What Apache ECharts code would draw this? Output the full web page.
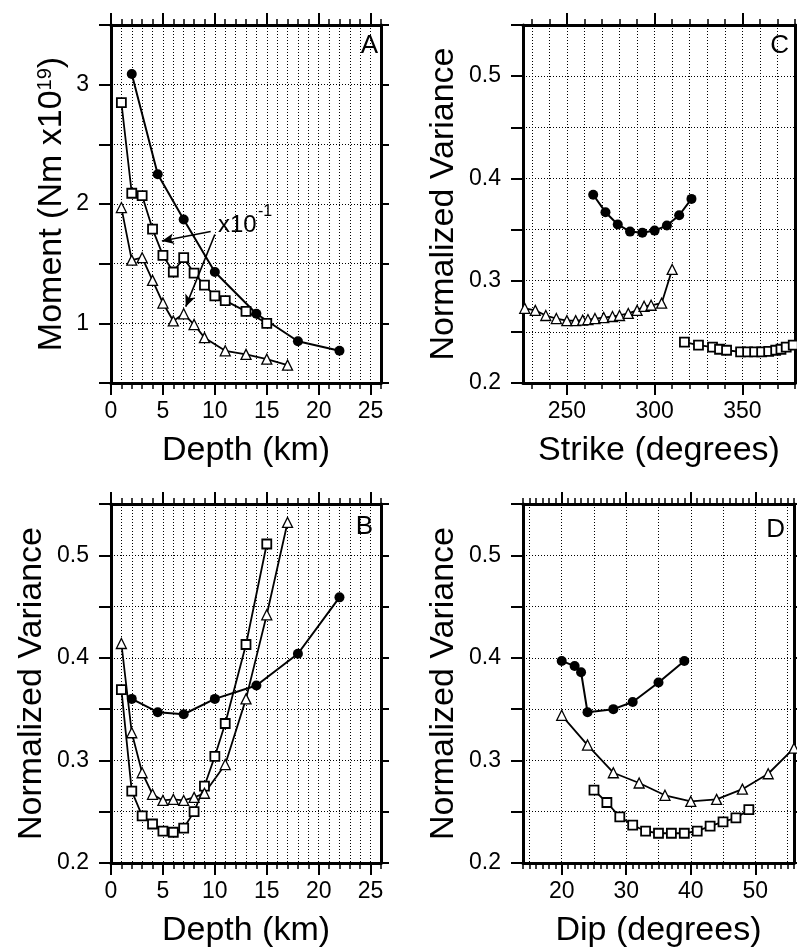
<!DOCTYPE html>
<html><head><meta charset="utf-8">
<script src="https://cdn.jsdelivr.net/npm/echarts@6/dist/echarts.min.js"></script>
<style>html,body{margin:0;padding:0;background:#fff}#c{width:797px;height:948px}</style>
</head><body><div id="c"></div>
<script>
// ---------- Panel A: Moment vs Depth ----------
const A_circDepth  = [2, 4.5, 7, 10, 14, 18, 22];
const A_circMoment = [3.09, 2.25, 1.87, 1.43, 1.08, 0.85, 0.77];
const A_sqDepth    = [1, 2, 3, 4, 5, 6, 7, 8, 9, 10, 11, 13, 15];
const A_sqMoment   = [2.85, 2.09, 2.07, 1.79, 1.57, 1.43, 1.55, 1.42, 1.32, 1.23, 1.19, 1.10, 1.00];
const A_triDepth   = [1, 2, 3, 4, 5, 6, 7, 8, 9, 11, 13, 15, 17];
const A_triMoment  = [1.97, 1.53, 1.55, 1.36, 1.17, 1.02, 1.08, 0.99, 0.88, 0.77, 0.74, 0.70, 0.65];
const A_arrows     = [[[9.6, 1.77], [4.9, 1.69]], [[10.0, 1.745], [7.2, 1.14]]];

// ---------- Panel B: Normalized variance vs Depth ----------
const B_circDepth = [2, 4.5, 7, 10, 14, 18, 22];
const B_circVar   = [0.360, 0.347, 0.345, 0.360, 0.373, 0.404, 0.459];
const B_sqDepth   = [1, 2, 3, 4, 5, 6, 7, 8, 9, 10, 11, 13, 15];
const B_sqVar     = [0.369, 0.270, 0.246, 0.238, 0.231, 0.230, 0.234, 0.250, 0.275, 0.304, 0.336, 0.413, 0.511];
const B_triDepth  = [1, 2, 3, 4, 5, 6, 7, 8, 9, 11, 13, 15, 17];
const B_triVar    = [0.414, 0.327, 0.288, 0.267, 0.261, 0.262, 0.261, 0.264, 0.268, 0.296, 0.360, 0.442, 0.532];

// ---------- Panel C: Normalized variance vs Strike ----------
const C_circStrike = [265, 272, 279, 286, 293, 300, 307, 314, 321];
const C_circVar    = [0.384, 0.367, 0.355, 0.348, 0.347, 0.349, 0.354, 0.364, 0.380];
const C_triStrike  = [226, 232, 238, 244, 250, 255, 259, 262, 266, 271, 276, 280, 285, 290, 294, 298, 304, 310];
const C_triVar     = [0.273, 0.271, 0.266, 0.263, 0.261, 0.261, 0.2615, 0.262, 0.263, 0.264, 0.265, 0.266, 0.268, 0.271, 0.275, 0.276, 0.278, 0.311];
const C_sqStrike   = [317, 325, 333, 337, 341, 349, 353, 357, 361, 365, 369, 372, 375, 379];
const C_sqVar      = [0.240, 0.237, 0.235, 0.233, 0.232, 0.2305, 0.2305, 0.2305, 0.2305, 0.231, 0.232, 0.233, 0.235, 0.237];

// ---------- Panel D: Normalized variance vs Dip ----------
const D_circDip = [20, 22, 23, 24, 28, 31, 35, 39];
const D_circVar = [0.397, 0.392, 0.386, 0.347, 0.350, 0.357, 0.376, 0.397];
const D_triDip  = [20, 24, 28, 32, 36, 40, 44, 48, 52, 56];
const D_triVar  = [0.344, 0.315, 0.288, 0.278, 0.266, 0.260, 0.262, 0.272, 0.287, 0.312];
const D_sqDip   = [25, 27, 29, 31, 33, 35, 37, 39, 41, 43, 45, 47, 49];
const D_sqVar   = [0.271, 0.259, 0.245, 0.237, 0.231, 0.229, 0.229, 0.229, 0.231, 0.236, 0.240, 0.244, 0.252];

// ---------- Tick / label values ----------
const depthLabels  = [0, 5, 10, 15, 20, 25];
const depthMinor   = [0,1,2,3,4,5,6,7,8,9,10,11,12,13,14,15,16,17,18,19,20,21,22,23,24,25,26];
const depthGrid    = [1,2,3,4,5,6,7,8,9,10,11,12,13,14,15,16,17,18,19,20,21,22,23,24,25];
const strikeLabels = [250, 300, 350];
const strikeMinor  = [230,240,250,260,270,280,290,300,310,320,330,340,350,360,370,380];
const strikeGrid   = [230,240,250,260,270,280,290,300,310,320,330,340,350,360,370];
const dipLabels    = [20, 30, 40, 50];
const dipMinor     = [14,15,16,17,18,19,20,21,22,23,24,25,26,27,28,29,30,31,32,33,34,35,36,37,38,39,40,41,42,43,44,45,46,47,48,49,50,51,52,53,54,55,56];
const dipGrid      = [15, 20, 25, 30, 35, 40, 45, 50, 55];
const momentLabels = [1, 2, 3];
const varLabels    = [0.2, 0.3, 0.4, 0.5];

const FONT = '"Liberation Sans", Arial, Helvetica, sans-serif';
const DOT = [1, 2];
const TITLE_SIZE = 34;
const TICK_SIZE = 23;

const grids = [
  {left: 111, top: 25,  width: 270, height: 358},  // A
  {left: 523, top: 25,  width: 272, height: 358},  // C
  {left: 111, top: 504, width: 270, height: 359},  // B
  {left: 523, top: 504, width: 271, height: 359}   // D
].map(g => Object.assign({show: false, containLabel: false, outerBoundsMode: 'none'}, g));

function xAxes(g, min, max, name, labels, majors, minors, gridVals) {
  const base = {type: 'value', gridIndex: g, min: min, max: max, silent: true};
  return [
    Object.assign({}, base, {position: 'bottom', name: name, nameLocation: 'middle', nameGap: 51,
      nameTextStyle: {fontSize: TITLE_SIZE, color: '#000', fontFamily: FONT},
      axisLine: {show: true, onZero: false, lineStyle: {color: '#000', width: 3}},
      axisTick: {show: true, inside: false, length: 12, customValues: majors, lineStyle: {color: '#000', width: 2}},
      axisLabel: {show: true, customValues: labels, margin: 17, fontSize: TICK_SIZE, color: '#000', fontFamily: FONT},
      splitLine: {show: false}}),
    Object.assign({}, base, {position: 'bottom',
      axisLine: {show: false, onZero: false},
      axisTick: {show: true, inside: false, length: 6, customValues: minors, lineStyle: {color: '#000', width: 1.5}},
      axisLabel: {show: false}, splitLine: {show: false}}),
    Object.assign({}, base, {position: 'bottom',
      axisLine: {show: false, onZero: false},
      axisTick: {show: false, customValues: gridVals},
      axisLabel: {show: false},
      splitLine: {show: true, lineStyle: {color: '#000', width: 1, type: DOT}}}),
    Object.assign({}, base, {position: 'top',
      axisLine: {show: true, onZero: false, lineStyle: {color: '#000', width: 3}},
      axisTick: {show: true, inside: false, length: 12, customValues: majors, lineStyle: {color: '#000', width: 2}},
      axisLabel: {show: false}, splitLine: {show: false}}),
    Object.assign({}, base, {position: 'top',
      axisLine: {show: false, onZero: false},
      axisTick: {show: true, inside: false, length: 6, customValues: minors, lineStyle: {color: '#000', width: 1.5}},
      axisLabel: {show: false}, splitLine: {show: false}})
  ];
}

function yAxes(g, min, max, interval, name, nameGap, labels, fmt, rich) {
  return [
    {type: 'value', gridIndex: g, min: min, max: max, interval: interval, position: 'left', silent: true,
      name: name, nameLocation: 'middle', nameGap: nameGap, nameRotate: 90,
      nameTextStyle: {fontSize: TITLE_SIZE, color: '#000', fontFamily: FONT, rich: rich},
      axisLine: {show: true, onZero: false, lineStyle: {color: '#000', width: 3}},
      axisTick: {show: true, inside: false, length: 12, lineStyle: {color: '#000', width: 2}},
      axisLabel: {show: true, customValues: labels, formatter: fmt, margin: 22, fontSize: TICK_SIZE, color: '#000', fontFamily: FONT},
      splitLine: {show: true, lineStyle: {color: '#000', width: 1, type: DOT}}},
    {type: 'value', gridIndex: g, min: min, max: max, interval: interval, position: 'right', silent: true,
      axisLine: {show: true, onZero: false, lineStyle: {color: '#000', width: 3}},
      axisTick: {show: true, inside: false, length: 8, lineStyle: {color: '#000', width: 2}},
      axisLabel: {show: false}, splitLine: {show: false}}
  ];
}

const xAxis = [].concat(
  xAxes(0, 0, 26, 'Depth (km)', depthLabels, depthLabels, depthMinor, depthGrid),
  xAxes(1, 225, 380, 'Strike (degrees)', strikeLabels, strikeLabels, strikeMinor, strikeGrid),
  xAxes(2, 0, 26, 'Depth (km)', depthLabels, depthLabels, depthMinor, depthGrid),
  xAxes(3, 14, 56, 'Dip (degrees)', dipLabels, dipLabels, dipMinor, dipGrid)
);
const varFmt = v => v.toFixed(1);
const yAxis = [].concat(
  yAxes(0, 0.5, 3.5, 0.5, 'Moment (Nm x10{s|19})', 42, momentLabels, v => String(Math.round(v)),
        {s: {fontSize: 20, verticalAlign: 'top', fontFamily: FONT, color: '#000'}}),
  yAxes(1, 0.2, 0.55, 0.05, 'Normalized Variance', 62, varLabels, varFmt),
  yAxes(2, 0.2, 0.55, 0.05, 'Normalized Variance', 62, varLabels, varFmt),
  yAxes(3, 0.2, 0.55, 0.05, 'Normalized Variance', 62, varLabels, varFmt)
);

const styles = {
  circ: {symbol: 'circle', symbolSize: 10, itemStyle: {color: '#000', borderColor: '#000', borderWidth: 0}, lineStyle: {color: '#000', width: 2}},
  sq:   {symbol: 'rect', symbolSize: 9, itemStyle: {color: '#fff', borderColor: '#000', borderWidth: 1.8}, lineStyle: {color: '#000', width: 1.8}},
  tri:  {symbol: 'triangle', symbolSize: 10, itemStyle: {color: '#fff', borderColor: '#000', borderWidth: 1.3}, lineStyle: {color: '#000', width: 1.8}}
};
function ser(panel, kind, xs, ys, extra) {
  return Object.assign({
    type: 'line', xAxisIndex: panel * 5, yAxisIndex: panel * 2,
    data: xs.map((x, i) => [x, ys[i]]),
    showAllSymbol: true, animation: false, silent: true, emphasis: {disabled: true}, z: 3
  }, styles[kind], extra || {});
}

const series = [
  ser(0, 'circ', A_circDepth, A_circMoment),
  ser(0, 'sq', A_sqDepth, A_sqMoment, {
    markLine: {silent: true, animation: false, symbol: ['none', 'arrow'], symbolSize: [8, 12],
      label: {show: false}, emphasis: {disabled: true},
      lineStyle: {color: '#000', width: 1.6, type: 'solid'},
      data: A_arrows.map(a => [{coord: a[0]}, {coord: a[1]}])}
  }),
  ser(0, 'tri', A_triDepth, A_triMoment),
  ser(1, 'circ', C_circStrike, C_circVar),
  ser(1, 'tri', C_triStrike, C_triVar),
  ser(1, 'sq', C_sqStrike, C_sqVar),
  ser(2, 'circ', B_circDepth, B_circVar),
  ser(2, 'sq', B_sqDepth, B_sqVar),
  ser(2, 'tri', B_triDepth, B_triVar),
  ser(3, 'circ', D_circDip, D_circVar),
  ser(3, 'tri', D_triDip, D_triVar),
  ser(3, 'sq', D_sqDip, D_sqVar)
];

function letter(t, x, y) {
  return {type: 'text', x: x, y: y, z: 10, silent: true,
    style: {text: t, fill: '#000', font: '26px ' + FONT, align: 'right', verticalAlign: 'top'}};
}
const graphic = [
  letter('A', 378, 33), letter('C', 789, 33), letter('B', 373, 514), letter('D', 785, 517),
  {type: 'text', x: 218, y: 213, z: 10, silent: true, style: {text: 'x10', fill: '#000', font: '24px ' + FONT}},
  {type: 'text', x: 258, y: 204, z: 10, silent: true, style: {text: '-1', fill: '#000', font: '16px ' + FONT}}
];

const chart = echarts.init(document.getElementById('c'), null, {renderer: 'canvas'});
chart.setOption({
  animation: false,
  backgroundColor: '#fff',
  grid: grids,
  xAxis: xAxis,
  yAxis: yAxis,
  series: series,
  graphic: graphic
});
</script>
</body></html>
